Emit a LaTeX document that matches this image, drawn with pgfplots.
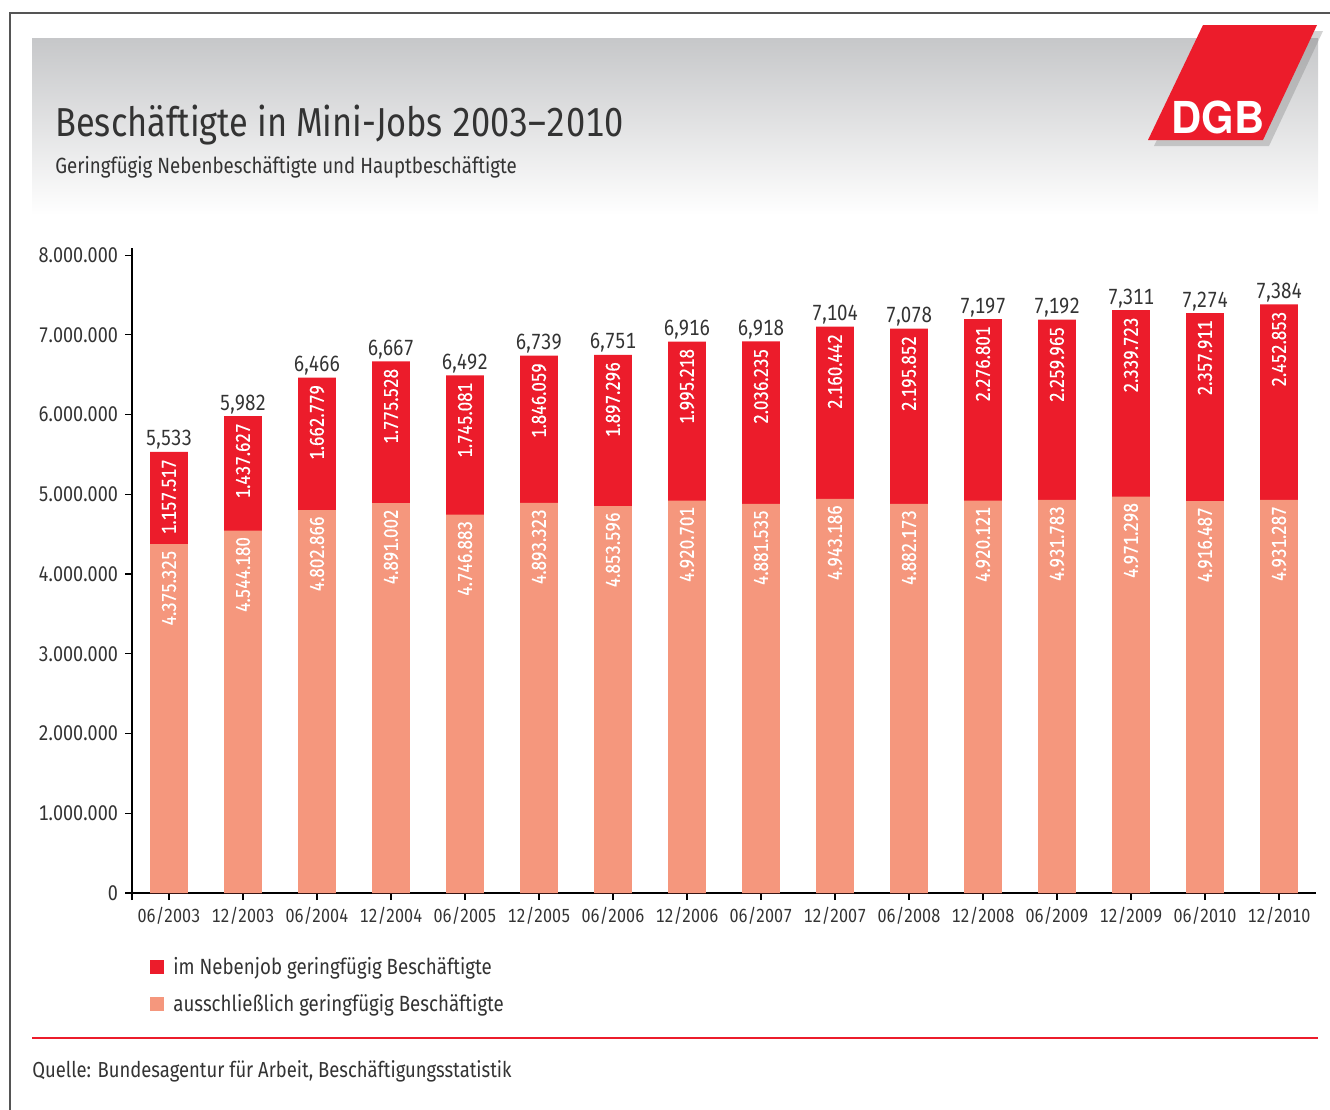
\documentclass[border=0pt]{standalone}
\usepackage{pgfplots}
\pgfplotsset{compat=1.18}
\usepackage{pgfplotstable}
\usepackage{fontspec}
\setmainfont{Fira Sans}[FakeStretch=0.85, Numbers=Monospaced]
\newfontfamily\labelfont{Fira Sans}[FakeStretch=0.85, FakeBold=0.4, Numbers=Monospaced]
\newfontfamily\logofont{TeX Gyre Heros}[FakeStretch=0.95]
\usetikzlibrary{shadows}
\definecolor{dgbred}{HTML}{EC1C2B}
\definecolor{salmon}{HTML}{F5977D}
\definecolor{txt}{HTML}{333333}
\definecolor{hdr}{HTML}{C6C7C9}
\definecolor{frame}{HTML}{555555}

% total = ausschliesslich + Nebenjob
\pgfplotstableread{
x date total light redlab lightlab tot
0  06/2003 5532842 4375325 1.157.517 4.375.325 5,533
1  12/2003 5981807 4544180 1.437.627 4.544.180 5,982
2  06/2004 6465645 4802866 1.662.779 4.802.866 6,466
3  12/2004 6666530 4891002 1.775.528 4.891.002 6,667
4  06/2005 6491964 4746883 1.745.081 4.746.883 6,492
5  12/2005 6739382 4893323 1.846.059 4.893.323 6,739
6  06/2006 6750892 4853596 1.897.296 4.853.596 6,751
7  12/2006 6915919 4920701 1.995.218 4.920.701 6,916
8  06/2007 6917770 4881535 2.036.235 4.881.535 6,918
9  12/2007 7103628 4943186 2.160.442 4.943.186 7,104
10 06/2008 7078025 4882173 2.195.852 4.882.173 7,078
11 12/2008 7196922 4920121 2.276.801 4.920.121 7,197
12 06/2009 7191748 4931783 2.259.965 4.931.783 7,192
13 12/2009 7311021 4971298 2.339.723 4.971.298 7,311
14 06/2010 7274398 4916487 2.357.911 4.916.487 7,274
15 12/2010 7384140 4931287 2.452.853 4.931.287 7,384
}\data

\begin{document}
\begin{tikzpicture}
\begin{scope}[x=0.5pt,y=-0.5pt]
\path[use as bounding box] (0,0) rectangle (1330,1110);
\draw[line width=1pt, frame] (10,1110) -- (10,13) -- (1330,13);
\shade[top color=hdr, bottom color=white] (32,38) rectangle (1318,215);
\node[anchor=base west, inner sep=0pt, text=txt, font=\fontsize{20.2}{22}\selectfont] at (55,136) {Beschäftigte in Mini-Jobs 2003–2010};
\node[anchor=base west, inner sep=0pt, text=txt, font=\fontsize{11}{12}\selectfont] at (55,173) {Geringfügig Nebenbeschäftigte und Hauptbeschäftigte};
\fill[dgbred, drop shadow={opacity=0.35, shadow xshift=3pt, shadow yshift=-3pt}] (1203,25) -- (1317,25) -- (1263,140) -- (1148,140) -- cycle;
\node[anchor=base, inner sep=0pt, text=white, font=\logofont\bfseries\fontsize{22}{24}\selectfont] at (1218,133) {DGB};
% legend
\fill[dgbred] (150,960) rectangle (164,974);
\node[anchor=base west, inner sep=0pt, text=txt, font=\fontsize{11}{12}\selectfont] at (173,974) {im Nebenjob geringfügig Beschäftigte};
\fill[salmon] (150,997) rectangle (164,1011);
\node[anchor=base west, inner sep=0pt, text=txt, font=\fontsize{11}{12}\selectfont] at (173,1011) {ausschließlich geringfügig Beschäftigte};
\draw[dgbred, line width=1.2pt] (32,1038) -- (1318,1038);
\node[anchor=base west, inner sep=0pt, text=txt, font=\fontsize{10.85}{12}\selectfont] at (32,1077) {Quelle: Bundesagentur für Arbeit, Beschäftigungsstatistik};
\end{scope}

\begin{axis}[
  at={(66pt,-446.5pt)}, anchor=south west,
  width=592pt, height=322.5pt, scale only axis,
  xmin=-0.5, xmax=15.5, ymin=0, ymax=8090000,
  enlargelimits=false, clip=false,
  ybar, bar width=0.51, bar shift=0pt,
  axis x line=bottom, axis y line=left,
  axis line style={-, line width=0.7pt, black},
  ytick={0,1000000,2000000,3000000,4000000,5000000,6000000,7000000,8000000},
  yticklabels={0,1.000.000,2.000.000,3.000.000,4.000.000,5.000.000,6.000.000,7.000.000,8.000.000},
  xtick={0,1,2,3,4,5,6,7,8,9,10,11,12,13,14,15},
  xticklabels={06/2003,12/2003,06/2004,12/2004,06/2005,12/2005,06/2006,12/2006,06/2007,12/2007,06/2008,12/2008,06/2009,12/2009,06/2010,12/2010},
  extra x ticks={-0.5}, extra x tick labels={},
  tick align=outside, major tick length=3.5pt,
  tick style={black, line width=0.6pt},
  scaled y ticks=false,
  y tick label style={font=\fontsize{10.6}{12}\selectfont, text=txt},
  x tick label style={font=\fontsize{9.5}{12}\selectfont, text=txt},
  /pgf/number format/assume math mode=true,
  nodes near coords,
  point meta=explicit symbolic,
]
\addplot[fill=dgbred, draw=none,
  nodes near coords style={rotate=90, anchor=east, text=white, inner xsep=3.5pt, inner ysep=0pt, font=\labelfont\fontsize{10}{12}\selectfont}]
  table[x=x, y=total, meta=redlab] {\data};
\addplot[fill=salmon, draw=none,
  nodes near coords style={rotate=90, anchor=east, text=white, inner xsep=3pt, inner ysep=0pt, font=\labelfont\fontsize{10}{12}\selectfont}]
  table[x=x, y=light, meta=lightlab] {\data};
\addplot[draw=none, fill=none, forget plot,
  nodes near coords style={anchor=base, yshift=3pt, inner sep=0pt, text=txt, font=\fontsize{11}{12}\selectfont}]
  table[x=x, y=total, meta=tot] {\data};
\end{axis}
\end{tikzpicture}
\end{document}
